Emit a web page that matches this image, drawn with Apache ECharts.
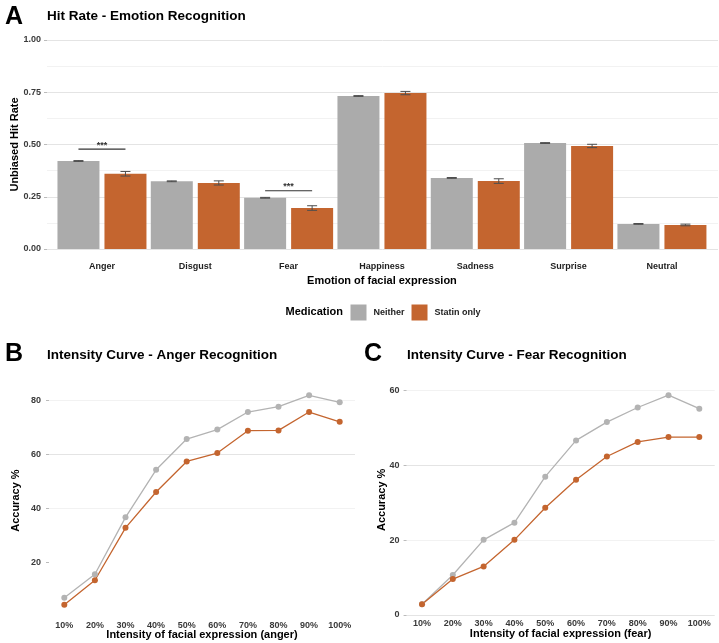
<!DOCTYPE html>
<html>
<head>
<meta charset="utf-8">
<script src="https://cdn.jsdelivr.net/npm/echarts@6/dist/echarts.min.js"></script>
<style>
html,body{margin:0;padding:0;background:#fff;}
#main{width:719px;height:643px;}
</style>
</head>
<body>
<div id="main"></div>
<script>
// ---------- Data ----------
const emotions = ['Anger','Disgust','Fear','Happiness','Sadness','Surprise','Neutral'];
const hitNeither = [0.421,0.324,0.245,0.732,0.340,0.507,0.120];
const hitStatin  = [0.360,0.316,0.196,0.746,0.325,0.493,0.115];
const seNeither  = [0.002,0.002,0.002,0.002,0.002,0.002,0.002];
const seStatin   = [0.011,0.010,0.011,0.008,0.011,0.008,0.004];
const sigCategories = ['Anger','Fear'];
const sigHeights    = [0.478,0.279];
const sigLabels     = ['***','***'];
const yTicksA = [0,0.25,0.5,0.75,1];

const intensities = ['10%','20%','30%','40%','50%','60%','70%','80%','90%','100%'];
const angerNeither = [7.0,15.7,36.8,54.4,65.8,69.3,75.8,77.8,82.0,79.4];
const angerStatin  = [4.4,13.5,32.9,46.2,57.5,60.6,68.9,69.0,75.8,72.2];
const fearNeither  = [2.9,10.7,20.1,24.7,37.0,46.7,51.6,55.5,58.8,55.2];
const fearStatin   = [2.9,9.6,13.0,20.1,28.7,36.2,42.4,46.3,47.6,47.6];
const yTicksB = [20,40,60,80];
const yTicksC = [0,20,40,60];

// ---------- Styles ----------
const FONT = "'Liberation Sans', Arial, Helvetica, sans-serif";
const GRAY = '#ABABAB';
const ORANGE = '#C4652F';
const LINEGRAY = '#B3B3B3';
const MAJOR = '#E4E4E4';
const MINOR = '#F2F2F2';
const LABELCOL = '#3a3a3a';
const BAR_W = 42, BAR_GAP = 5;
const DODGE = (BAR_W + BAR_GAP) / 2;

const chart = echarts.init(document.getElementById('main'), null, {renderer:'canvas'});

function errorItem(params, api) {
  const idx = api.value(0);
  const lo = api.coord([idx, api.value(1)]);
  const hi = api.coord([idx, api.value(2)]);
  const off = api.value(3) === 0 ? -DODGE : DODGE;
  const x = lo[0] + off;
  const st = {stroke:'#4d4d4d', lineWidth:1};
  return {type:'group', children:[
    {type:'line', shape:{x1:x, y1:lo[1], x2:x, y2:hi[1]}, style:st},
    {type:'line', shape:{x1:x-5, y1:lo[1], x2:x+5, y2:lo[1]}, style:st},
    {type:'line', shape:{x1:x-5, y1:hi[1], x2:x+5, y2:hi[1]}, style:st}
  ]};
}
function bracketItem(params, api) {
  const idx = api.value(0);
  const p = api.coord([idx, api.value(1)]);
  return {type:'group', children:[
    {type:'line', shape:{x1:p[0]-DODGE, y1:p[1], x2:p[0]+DODGE, y2:p[1]}, style:{stroke:'#333', lineWidth:1.1}},
    {type:'text', style:{text:sigLabels[params.dataIndex], x:p[0], y:p[1]-4, align:'center', verticalAlign:'middle',
      font:'bold 9px ' + FONT, fill:'#333'}}
  ]};
}

const txt = (text, x, y, size, extra) => Object.assign({
  type:'text', left:x, top:y,
  style:{text:text, font:'bold ' + size + 'px ' + FONT, fill:'#000'}
}, extra || {});

const gridBase = {containLabel:false, outerBoundsMode:'none'};

const option = {
  animation:false,
  textStyle:{fontFamily:FONT},
  graphic:[
    txt('A', 5, 5, 25),
    txt('Hit Rate - Emotion Recognition', 47, 9, 13.5),
    txt('B', 5, 342, 25),
    txt('Intensity Curve - Anger Recognition', 47, 348, 13.5),
    txt('C', 364, 342, 25),
    txt('Intensity Curve - Fear Recognition', 407, 348, 13.5),
    txt('Medication', 285.5, 306.5, 11)
  ],
  legend:{
    data:['Neither','Statin only'], left:350.5, top:304.5, padding:0,
    itemWidth:16, itemHeight:16, itemGap:7, icon:'rect',
    selectedMode:false,
    itemStyle:{borderWidth:0},
    textStyle:{fontSize:9, fontWeight:'bold', color:'#222', padding:[0,0,0,2]}
  },
  grid:[
    Object.assign({left:47, right:1, top:40, bottom:394}, gridBase),
    Object.assign({left:55.3, right:10.4, top:40, bottom:394}, gridBase),
    Object.assign({left:49, right:364, top:384.5, bottom:26.3}, gridBase),
    Object.assign({left:406.6, right:4.3, top:384.7, bottom:28}, gridBase)
  ],
  xAxis:[
    {gridIndex:0, type:'value', show:false, min:0, max:1, axisLabel:{show:false}, splitLine:{show:false}},
    {gridIndex:1, type:'category', data:emotions,
      axisLine:{show:false}, axisTick:{show:false},
      axisLabel:{fontSize:9, fontWeight:'bold', color:'#222', margin:13},
      name:'Emotion of facial expression', nameLocation:'middle', nameGap:26, nameMoveOverlap:false,
      nameTextStyle:{fontSize:11, fontWeight:'bold', color:'#000'}},
    {gridIndex:2, type:'category', data:intensities,
      axisLine:{show:false}, axisTick:{show:false},
      axisLabel:{fontSize:9, fontWeight:'bold', color:LABELCOL, margin:4},
      name:'Intensity of facial expression (anger)', nameLocation:'middle', nameGap:13, nameMoveOverlap:false,
      nameTextStyle:{fontSize:11, fontWeight:'bold', color:'#000'}},
    {gridIndex:3, type:'category', data:intensities,
      axisLine:{show:false}, axisTick:{show:false},
      axisLabel:{fontSize:9, fontWeight:'bold', color:LABELCOL, margin:4},
      name:'Intensity of facial expression (fear)', nameLocation:'middle', nameGap:13, nameMoveOverlap:false,
      nameTextStyle:{fontSize:11, fontWeight:'bold', color:'#000'}}
  ],
  yAxis:[
    {gridIndex:0, type:'value', min:0, max:1, interval:0.25,
      axisLine:{show:false},
      axisTick:{show:true, length:3, lineStyle:{color:'#bbb'}},
      axisLabel:{fontSize:9, fontWeight:'bold', color:LABELCOL, margin:6,
        formatter:v => yTicksA.indexOf(v) >= 0 ? v.toFixed(2) : ''},
      splitLine:{show:true, lineStyle:{color:MAJOR, width:1}},
      minorTick:{show:false, splitNumber:2},
      minorSplitLine:{show:true, lineStyle:{color:MINOR, width:1}},
      name:'Unbiased Hit Rate', nameLocation:'middle', nameGap:26.5, nameMoveOverlap:false,
      nameTextStyle:{fontSize:11, fontWeight:'bold', color:'#000'}},
    {gridIndex:1, type:'value', min:0, max:1, show:false, splitLine:{show:false}},
    {gridIndex:2, type:'value', min:0, max:86, interval:10,
      axisLine:{show:false},
      axisTick:{show:true, length:3, lineStyle:{color:'#bbb'}, customValues:yTicksB},
      axisLabel:{fontSize:9, fontWeight:'bold', color:LABELCOL, margin:8,
        formatter:v => yTicksB.indexOf(v) >= 0 ? String(v) : ''},
      splitLine:{show:true, lineStyle:{width:1,
        color:['rgba(0,0,0,0)',MINOR,MAJOR,MINOR,MAJOR,MINOR,MAJOR,MINOR,MAJOR,'rgba(0,0,0,0)','rgba(0,0,0,0)']}},
      name:'Accuracy %', nameLocation:'middle', nameGap:28, nameMoveOverlap:false,
      nameTextStyle:{fontSize:11, fontWeight:'bold', color:'#000'}},
    {gridIndex:3, type:'value', min:0, max:61.6, interval:10,
      axisLine:{show:false},
      axisTick:{show:true, length:3, lineStyle:{color:'#bbb'}, customValues:yTicksC},
      axisLabel:{fontSize:9, fontWeight:'bold', color:LABELCOL, margin:7,
        formatter:v => yTicksC.indexOf(v) >= 0 ? String(v) : ''},
      splitLine:{show:true, lineStyle:{width:1,
        color:[MAJOR,MINOR,MAJOR,MINOR,MAJOR,MINOR,MAJOR,'rgba(0,0,0,0)','rgba(0,0,0,0)']}},
      name:'Accuracy %', nameLocation:'middle', nameGap:19, nameMoveOverlap:false,
      nameTextStyle:{fontSize:11, fontWeight:'bold', color:'#000'}}
  ],
  series:[
    {name:'Neither', type:'bar', xAxisIndex:1, yAxisIndex:1, data:hitNeither,
      barWidth:BAR_W, barGap:(BAR_GAP/BAR_W*100)+'%', itemStyle:{color:GRAY}},
    {name:'Statin only', type:'bar', xAxisIndex:1, yAxisIndex:1, data:hitStatin,
      barWidth:BAR_W, barGap:(BAR_GAP/BAR_W*100)+'%', itemStyle:{color:ORANGE}},
    {name:'errorbars', type:'custom', xAxisIndex:1, yAxisIndex:1, z:5,
      renderItem:errorItem, encode:{x:0, y:[1,2]},
      data: emotions.map((e,i)=>[i, hitNeither[i]-seNeither[i], hitNeither[i]+seNeither[i], 0])
        .concat(emotions.map((e,i)=>[i, hitStatin[i]-seStatin[i], hitStatin[i]+seStatin[i], 1]))},
    {name:'sig', type:'custom', xAxisIndex:1, yAxisIndex:1, z:5,
      renderItem:bracketItem, encode:{x:0, y:1},
      data: sigCategories.map((c,i)=>[emotions.indexOf(c), sigHeights[i]])},
    {name:'Neither (anger)', type:'line', xAxisIndex:2, yAxisIndex:2, data:angerNeither,
      symbol:'circle', symbolSize:6, itemStyle:{color:LINEGRAY}, lineStyle:{color:LINEGRAY, width:1.3}},
    {name:'Statin only (anger)', type:'line', xAxisIndex:2, yAxisIndex:2, data:angerStatin,
      symbol:'circle', symbolSize:6, itemStyle:{color:ORANGE}, lineStyle:{color:ORANGE, width:1.3}},
    {name:'Neither (fear)', type:'line', xAxisIndex:3, yAxisIndex:3, data:fearNeither,
      symbol:'circle', symbolSize:6, itemStyle:{color:LINEGRAY}, lineStyle:{color:LINEGRAY, width:1.3}},
    {name:'Statin only (fear)', type:'line', xAxisIndex:3, yAxisIndex:3, data:fearStatin,
      symbol:'circle', symbolSize:6, itemStyle:{color:ORANGE}, lineStyle:{color:ORANGE, width:1.3}}
  ]
};
chart.setOption(option);
</script>
</body>
</html>
